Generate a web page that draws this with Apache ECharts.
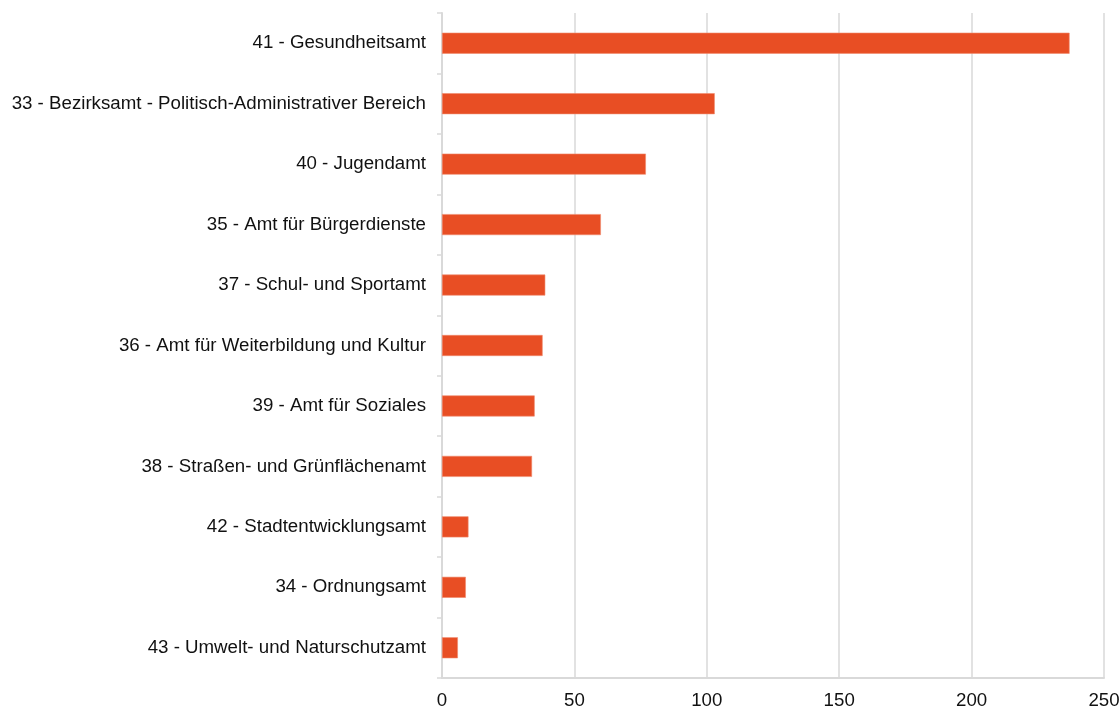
<!DOCTYPE html>
<html>
<head>
<meta charset="utf-8">
<script src="https://cdn.jsdelivr.net/npm/echarts@6/dist/echarts.min.js"></script>
<style>
html,body{margin:0;padding:0;background:#fff;}
#chart{width:1120px;height:711px;}
</style>
</head>
<body>
<div id="chart"></div>
<script>
const categories = [
  "41 - Gesundheitsamt",
  "33 - Bezirksamt - Politisch-Administrativer Bereich",
  "40 - Jugendamt",
  "35 - Amt für Bürgerdienste",
  "37 - Schul- und Sportamt",
  "36 - Amt für Weiterbildung und Kultur",
  "39 - Amt für Soziales",
  "38 - Straßen- und Grünflächenamt",
  "42 - Stadtentwicklungsamt",
  "34 - Ordnungsamt",
  "43 - Umwelt- und Naturschutzamt"
];
const values = [237, 103, 77, 60, 39, 38, 35, 34, 10, 9, 6];
const xTicks = [0, 50, 100, 150, 200, 250];

const chart = echarts.init(document.getElementById('chart'), null, {renderer: 'canvas'});
chart.setOption({
  animation: false,
  backgroundColor: '#ffffff',
  grid: {left: 442, right: 16, top: 13, bottom: 33, containLabel: false, outerBoundsMode: 'none'},
  xAxis: {
    type: 'value',
    min: xTicks[0],
    max: xTicks[xTicks.length - 1],
    interval: 50,
    axisLine: {show: true, lineStyle: {color: '#d9d9d9', width: 2}},
    axisTick: {show: false},
    splitLine: {show: true, lineStyle: {color: '#d9d9d9', width: 1.5}},
    axisLabel: {color: '#111', fontSize: 18.7, fontFamily: 'Liberation Sans, Arial, sans-serif', margin: 13}
  },
  yAxis: {
    type: 'category',
    data: categories,
    inverse: true,
    axisLine: {show: true, lineStyle: {color: '#d9d9d9', width: 2}},
    axisTick: {show: true, length: 5, lineStyle: {color: '#d9d9d9', width: 1.5}},
    axisLabel: {color: '#111', fontSize: 18.7, fontFamily: 'Liberation Sans, Arial, sans-serif', margin: 16}
  },
  series: [{
    type: 'bar',
    data: values,
    barWidth: 21,
    itemStyle: {color: '#e84e24', borderColor: '#f08a6c', borderWidth: 0.6}
  }]
});
</script>
</body>
</html>
